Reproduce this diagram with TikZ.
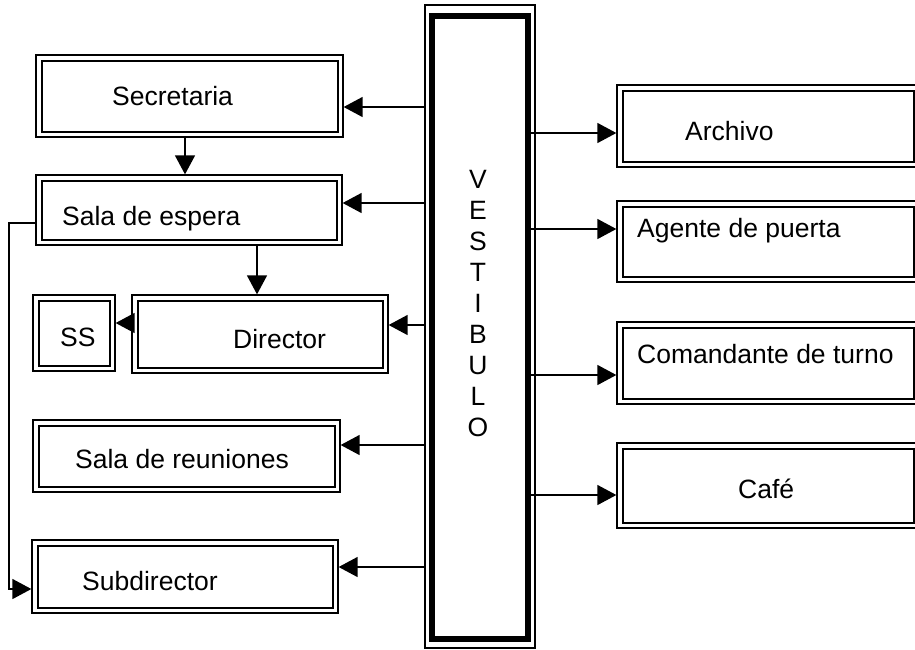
\documentclass[tikz,border=0pt]{standalone}
\usepackage{fontspec}
\setmainfont{Liberation Sans}
\usetikzlibrary{arrows.meta}
\tikzset{
  dbox/.style={draw, line width=1.3pt, inner sep=0pt,
    path picture={\draw[line width=2pt]
      ([shift={(5.5pt,5.5pt)}]path picture bounding box.south west) rectangle
      ([shift={(-5.5pt,-5.5pt)}]path picture bounding box.north east);}},
  lbl/.style={anchor=base west, inner sep=0pt, font=\fontsize{26.5}{31}\selectfont},
  arr/.style={line width=1.4pt, -{Triangle[length=19pt,width=20pt]}},
}
\begin{document}
\begin{tikzpicture}[x=1pt,y=-1pt]
\useasboundingbox (0,0) rectangle (915,649);
\clip (0,0) rectangle (915,649);
\fill[white] (0,0) rectangle (915,649);

% left boxes
\node[dbox, minimum width=307pt, minimum height=82pt] (sec) at (189.5,96) {};
\node[dbox, minimum width=306pt, minimum height=70pt] (esp) at (189,210) {};
\node[dbox, minimum width=256pt, minimum height=78pt] (dir) at (260,334) {};
\node[dbox, minimum width=82pt, minimum height=76pt] (ss) at (74,333) {};
\node[dbox, minimum width=307pt, minimum height=72pt] (reu) at (186.5,456) {};
\node[dbox, minimum width=306pt, minimum height=73pt] (sub) at (185,576.5) {};
% right boxes
\node[dbox, minimum width=302pt, minimum height=82pt] (arc) at (768,126) {};
\node[dbox, minimum width=302pt, minimum height=81pt] (age) at (768,241.5) {};
\node[dbox, minimum width=302pt, minimum height=82pt] (com) at (768,363) {};
\node[dbox, minimum width=302pt, minimum height=85pt] (caf) at (768,485.5) {};
% vestibulo
\node[draw, line width=1.3pt, minimum width=110pt, minimum height=643pt, inner sep=0pt] (vest) at (480,326.5) {};
\draw[line width=6pt] ([shift={(7.5pt,-12pt)}]vest.north west) rectangle ([shift={(-7.5pt,9.5pt)}]vest.south east);
\node[inner sep=0pt, align=center, font=\fontsize{26.5}{31}\selectfont] (vtxt) at (478,304)
  {V\\E\\S\\T\\I\\B\\U\\L\\O};

% labels
\node[lbl] (tsec) at (112,105) {Secretaria};
\node[lbl] (tesp) at (62,225) {Sala de espera};
\node[lbl] (tdir) at (233,348) {Director};
\node[lbl] (tss) at (60,346) {SS};
\node[lbl] (treu) at (75,468) {Sala de reuniones};
\node[lbl] (tsub) at (82,590) {Subdirector};
\node[lbl] (tarc) at (685,140) {Archivo};
\node[lbl] (tage) at (637,237) {Agente de puerta};
\node[lbl] (tcom) at (637,363) {Comandante de turno};
\node[lbl] (tcaf) at (738,498) {Café};

% row coordinates
\coordinate (r1) at (0,107);
\coordinate (r2) at (0,203);
\coordinate (r3) at (0,325);
\coordinate (r4) at (0,445);
\coordinate (r5) at (0,567);
\coordinate (q1) at (0,133);
\coordinate (q2) at (0,229);
\coordinate (q3) at (0,375);
\coordinate (q4) at (0,495);
\coordinate (vr) at ([xshift=-10pt]vest.east);

% vestibulo to left boxes
\draw[arr] (vest.west |- r1) -- (sec.east |- r1);
\draw[arr] (vest.west |- r2) -- (esp.east |- r2);
\draw[arr] (vest.west |- r3) -- (dir.east |- r3);
\draw[arr] (vest.west |- r4) -- (reu.east |- r4);
\draw[arr] (vest.west |- r5) -- (sub.east |- r5);
% vestibulo to right boxes
\draw[arr] (vr |- q1) -- (arc.west |- q1);
\draw[arr] (vr |- q2) -- (age.west |- q2);
\draw[arr] (vr |- q3) -- (com.west |- q3);
\draw[arr] (vr |- q4) -- (caf.west |- q4);

% internal arrows
\coordinate (cx1) at (185,0);
\coordinate (cx2) at (257,0);
\coordinate (cy1) at (0,323);
\draw[arr] (sec.south -| cx1) -- (esp.north -| cx1);
\draw[arr] (esp.south -| cx2) -- (dir.north -| cx2);
\draw[arr] (dir.west |- cy1) -- (ss.east |- cy1);
\coordinate (la) at (9,223);
\coordinate (lb) at (9,589);
\draw[arr] (esp.west |- la) -- (la) -- (lb) -- (sub.west |- lb);
\end{tikzpicture}
\end{document}
